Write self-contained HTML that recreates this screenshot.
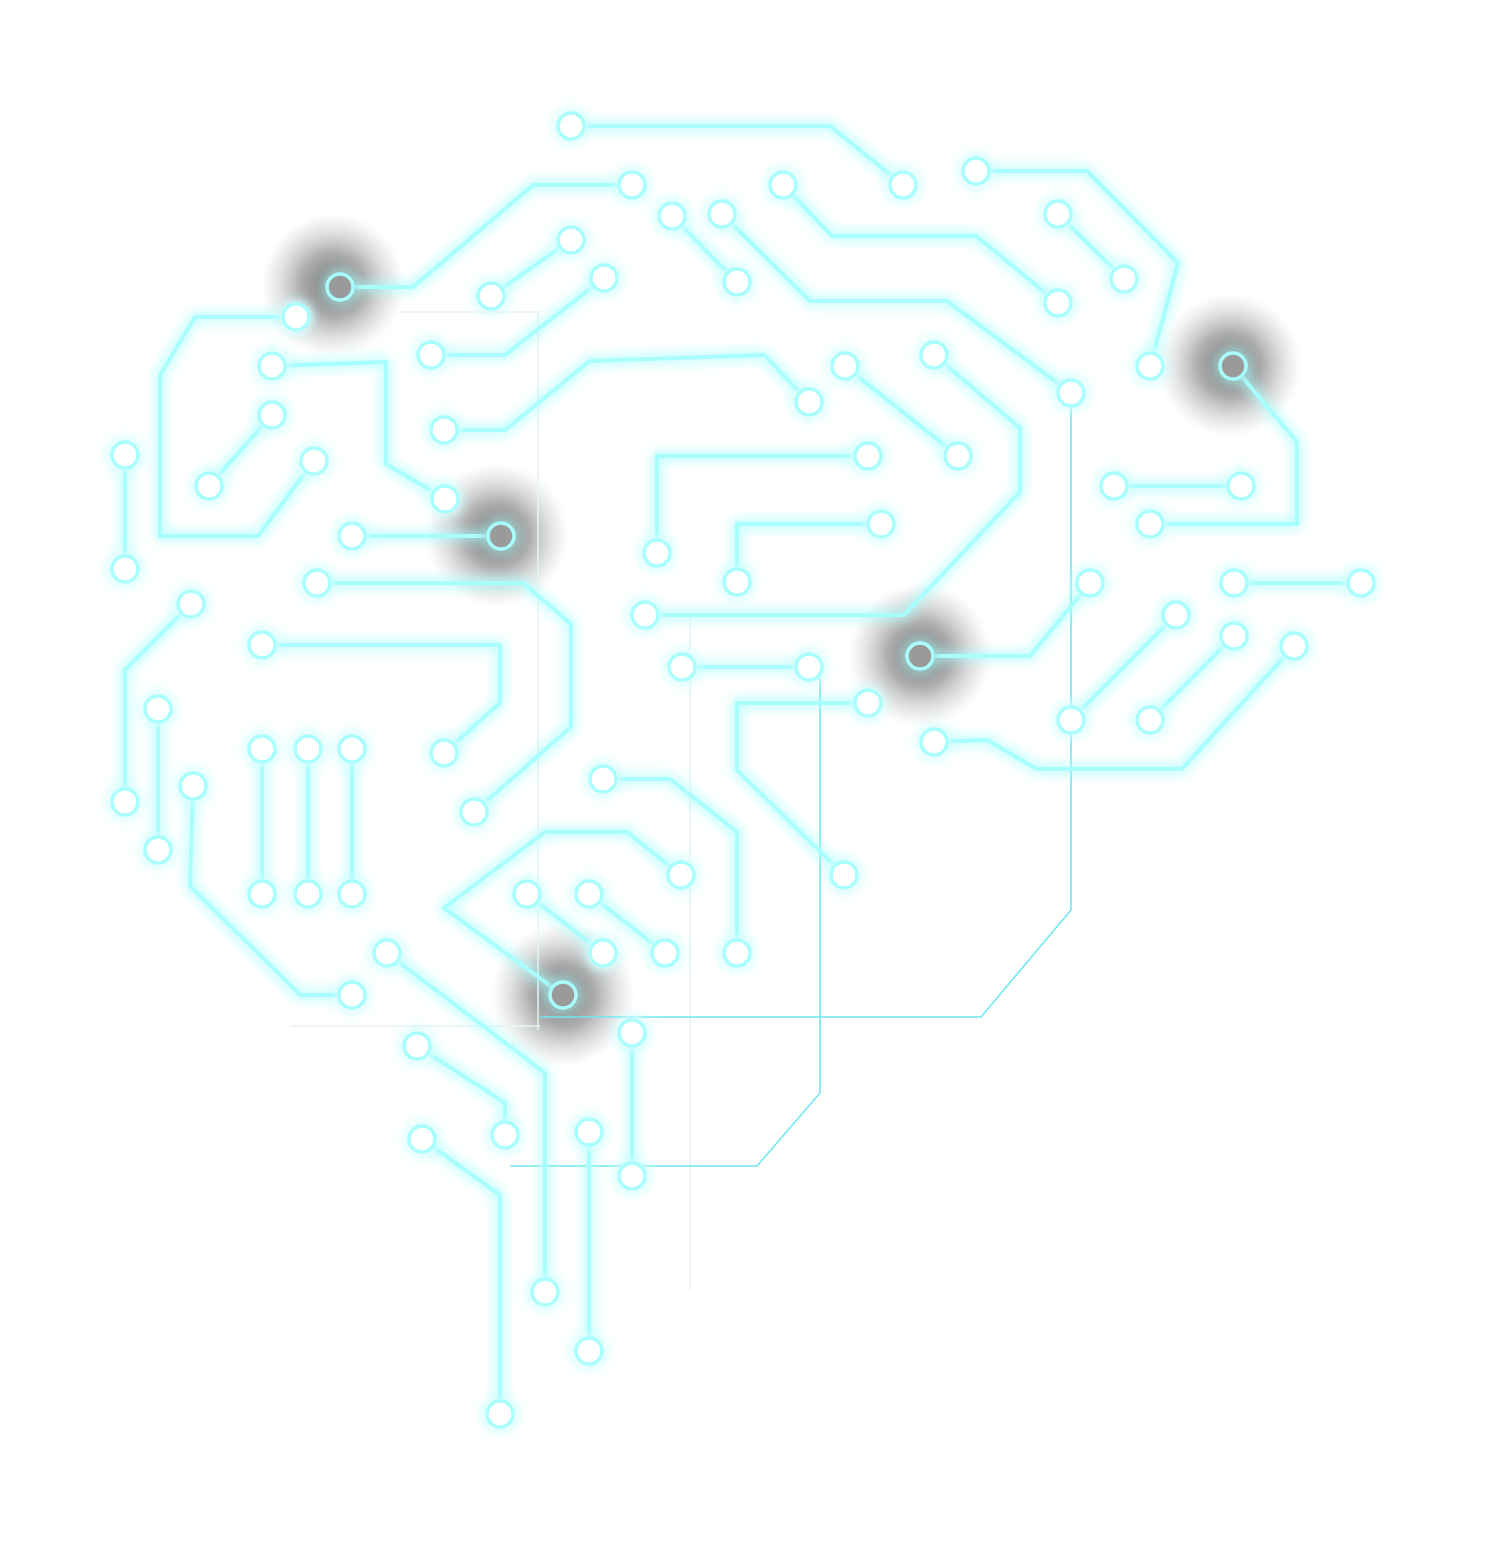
<!DOCTYPE html>
<html><head><meta charset="utf-8">
<style>
html,body{margin:0;padding:0;background:#fff;}
svg{display:block;}
</style></head>
<body>
<svg id="brain" width="1489" height="1542" viewBox="0 0 1489 1542" xmlns="http://www.w3.org/2000/svg">
<defs>
<filter id="glow" x="-20%" y="-20%" width="140%" height="140%">
<feGaussianBlur stdDeviation="6" result="b"/>
<feMerge><feMergeNode in="b"/><feMergeNode in="b"/><feMergeNode in="SourceGraphic"/></feMerge>
</filter>
<radialGradient id="hub">
<stop offset="0" stop-color="#6a6a6a" stop-opacity="0.95"/>
<stop offset="0.45" stop-color="#8a8a8a" stop-opacity="0.7"/>
<stop offset="1" stop-color="#bbbbbb" stop-opacity="0"/>
</radialGradient>
</defs>
<g id="hubs"></g>
<g id="faint" stroke="#e6f4f4" stroke-width="1.5" fill="none">
<path d="M538 312 V1030 M690 615 V1290 M290 1026 H540 M400 312 H540"/>
</g>
<g id="thin" stroke="#6fe8ee" stroke-width="1.6" fill="none"></g>
<g id="traces" filter="url(#glow)" stroke="#a8fdfd" stroke-width="4" fill="none" stroke-linejoin="miter"></g>
<g id="nodes" filter="url(#glow)"></g>
</svg>
<script>
const hubCenters = [[333,285],[497,535],[1230,365],[920,655],[563,995]];
const thinLines = [
 [[1071,393],[1071,910],[981,1017],[540,1017]],
 [[809,667],[820,680],[820,1093],[757,1166],[510,1166]]
];
const traceLines = [
 [[571,126],[830,126],[903,185]],
 [[340,287],[413,287],[533,185],[632,185]],
 [[491,296],[571,240]],
 [[431,355],[505,355],[604,278]],
 [[672,216],[737,282]],
 [[722,214],[810,301],[947,301],[1071,393]],
 [[783,185],[832,236],[976,236],[1058,303]],
 [[976,171],[1087,171],[1178,263],[1150,366]],
 [[1058,214],[1124,279]],
 [[1233,366],[1297,442],[1297,524],[1150,524]],
 [[1114,486],[1241,486]],
 [[296,317],[195,317],[160,375],[160,536],[258,536],[314,461]],
 [[272,366],[386,362],[386,464],[445,499]],
 [[209,486],[272,415]],
 [[125,455],[125,569]],
 [[444,430],[505,430],[590,361],[764,355],[809,402]],
 [[845,366],[958,456]],
 [[934,355],[1020,428],[1020,492],[904,615],[645,615]],
 [[657,553],[657,456],[868,456]],
 [[737,582],[737,524],[881,524]],
 [[352,536],[501,536]],
 [[317,583],[523,583],[571,624],[571,727],[474,812]],
 [[262,645],[500,645],[500,703],[444,753]],
 [[191,604],[125,670],[125,802]],
 [[158,709],[158,850]],
 [[193,786],[190,886],[300,995],[352,995]],
 [[262,749],[262,894]],
 [[308,749],[308,894]],
 [[352,749],[352,894]],
 [[920,656],[1030,656],[1090,583]],
 [[1234,583],[1361,583]],
 [[1071,720],[1176,615]],
 [[1150,720],[1234,636]],
 [[934,742],[987,740],[1037,769],[1182,769],[1294,646]],
 [[682,667],[809,667]],
 [[868,703],[737,703],[737,770],[844,875]],
 [[603,779],[670,779],[737,832],[737,953]],
 [[681,875],[627,832],[545,832],[444,908],[563,995]],
 [[527,894],[603,953]],
 [[589,894],[665,953]],
 [[387,953],[545,1073],[545,1292]],
 [[417,1046],[505,1103],[505,1135]],
 [[422,1139],[500,1195],[500,1414]],
 [[589,1132],[589,1351]],
 [[632,1033],[632,1176]]
];
const NS = "http://www.w3.org/2000/svg";
const d = pts => pts.map((p,i)=>(i?"L":"M")+p[0]+" "+p[1]).join(" ");
const hubs = document.getElementById("hubs");
hubCenters.forEach(c=>{
  const e = document.createElementNS(NS,"circle");
  e.setAttribute("cx",c[0]); e.setAttribute("cy",c[1]); e.setAttribute("r",72);
  e.setAttribute("fill","url(#hub)");
  
  
  hubs.appendChild(e);
});
const thin = document.getElementById("thin");
thinLines.forEach(l=>{
  const p = document.createElementNS(NS,"path");
  p.setAttribute("d",d(l));
  
  
  thin.appendChild(p);
});
const traces = document.getElementById("traces");
const nodes = document.getElementById("nodes");
const isHub = (x,y)=>hubCenters.some(h=>Math.hypot(h[0]-x,h[1]-y)<12);
traceLines.forEach(l=>{
  const p = document.createElementNS(NS,"path");
  p.setAttribute("d",d(l));
  
  
  traces.appendChild(p);
  [l[0], l[l.length-1]].forEach(pt=>{
    const c = document.createElementNS(NS,"circle");
    c.setAttribute("cx",pt[0]); c.setAttribute("cy",pt[1]); c.setAttribute("r",13);
    c.setAttribute("fill", isHub(pt[0],pt[1]) ? "#9a9a9a" : "#ffffff");
    c.setAttribute("stroke","#a8fdfd"); c.setAttribute("stroke-width","3.5");
    
    
    nodes.appendChild(c);
  });
});
</script>
</body></html>
